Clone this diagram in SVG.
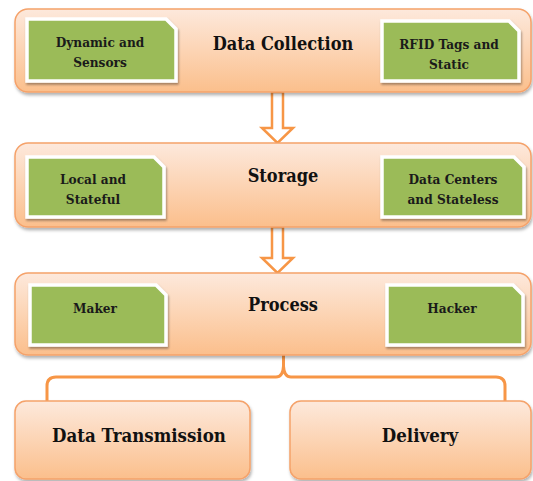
<svg xmlns="http://www.w3.org/2000/svg" width="533" height="481" viewBox="0 0 533 481">
<defs>
<linearGradient id="peach" x1="0" y1="0" x2="0" y2="1">
<stop offset="0" stop-color="#fde9dc"/>
<stop offset="1" stop-color="#fbbf8c"/>
</linearGradient>
<filter id="sh" x="-5%" y="-10%" width="110%" height="130%">
<feDropShadow dx="1" dy="2.5" stdDeviation="1.5" flood-color="#000" flood-opacity="0.3"/>
</filter>
<filter id="sh2" x="-5%" y="-10%" width="115%" height="130%">
<feDropShadow dx="1" dy="2" stdDeviation="1.2" flood-color="#000" flood-opacity="0.35"/>
</filter>
</defs>
<style>
text{font-family:"DejaVu Serif Condensed","DejaVu Serif",serif;font-stretch:condensed;font-weight:bold;text-anchor:middle}
.box{fill:url(#peach);stroke:#f5a26a;stroke-width:1.5;filter:url(#sh)}
.green{fill:#9bbb59;stroke:#ffffff;stroke-width:3.5;filter:url(#sh2)}
.title{font-size:18px;fill:#111}
.big{font-size:18.5px;fill:#111}
.lbl{font-size:13.5px;fill:#1a1a1a}
.arrow{fill:#fff;stroke:#f79646;stroke-width:2.5;stroke-linejoin:miter}
.conn{fill:none;stroke:#f79646;stroke-width:3}
</style>

<g id="connectors">
<path class="arrow" d="M272 92 H283 V128 H293 L277.5 143 L262 128 H272 Z"/>
<path class="arrow" d="M272 227 H283 V258 H293 L277.5 273 L262 258 H272 Z"/>
<path class="conn" d="M47 402 V386 Q47 377 56 377 H276 Q283 377 283.5 366 V354 M283.5 366 Q284 377 291 377 H496 Q505 377 505 386 V402"/>
</g>

<g id="data-collection">
<rect class="box" x="15" y="9" width="516" height="83" rx="13"/>
<text class="title" x="283" y="50">Data Collection</text>
</g>
<g id="dynamic-sensors">
<path class="green" d="M27 19 H166 L176 29 V81 H27 Z"/>
<text class="lbl" x="100" y="47">Dynamic and</text>
<text class="lbl" x="100" y="67">Sensors</text>
</g>
<g id="rfid-static">
<path class="green" d="M382 21 H509 L519 31 V81 H382 Z"/>
<text class="lbl" x="449" y="49">RFID Tags and</text>
<text class="lbl" x="449" y="69">Static</text>
</g>

<g id="storage">
<rect class="box" x="15" y="143" width="516" height="84" rx="13"/>
<text class="title" x="283" y="182">Storage</text>
</g>
<g id="local-stateful">
<path class="green" d="M27 157 H154 L164 167 V217 H27 Z"/>
<text class="lbl" x="93" y="184">Local and</text>
<text class="lbl" x="93" y="204">Stateful</text>
</g>
<g id="datacenters-stateless">
<path class="green" d="M382 157 H514 L524 167 V217 H382 Z"/>
<text class="lbl" x="453" y="184">Data Centers</text>
<text class="lbl" x="453" y="204">and Stateless</text>
</g>

<g id="process">
<rect class="box" x="15" y="273" width="516" height="82" rx="13"/>
<text class="title" x="283" y="311">Process</text>
</g>
<g id="maker">
<path class="green" d="M30 285 H156 L166 295 V345 H30 Z"/>
<text class="lbl" x="95" y="313">Maker</text>
</g>
<g id="hacker">
<path class="green" d="M387 285 H513 L523 295 V345 H387 Z"/>
<text class="lbl" x="452" y="313">Hacker</text>
</g>

<g id="data-transmission">
<rect class="box" x="15" y="401" width="235" height="78" rx="11"/>
<text class="big" x="139" y="442">Data Transmission</text>
</g>
<g id="delivery">
<rect class="box" x="290" y="401" width="241" height="78" rx="11"/>
<text class="big" x="420" y="442">Delivery</text>
</g>
</svg>
